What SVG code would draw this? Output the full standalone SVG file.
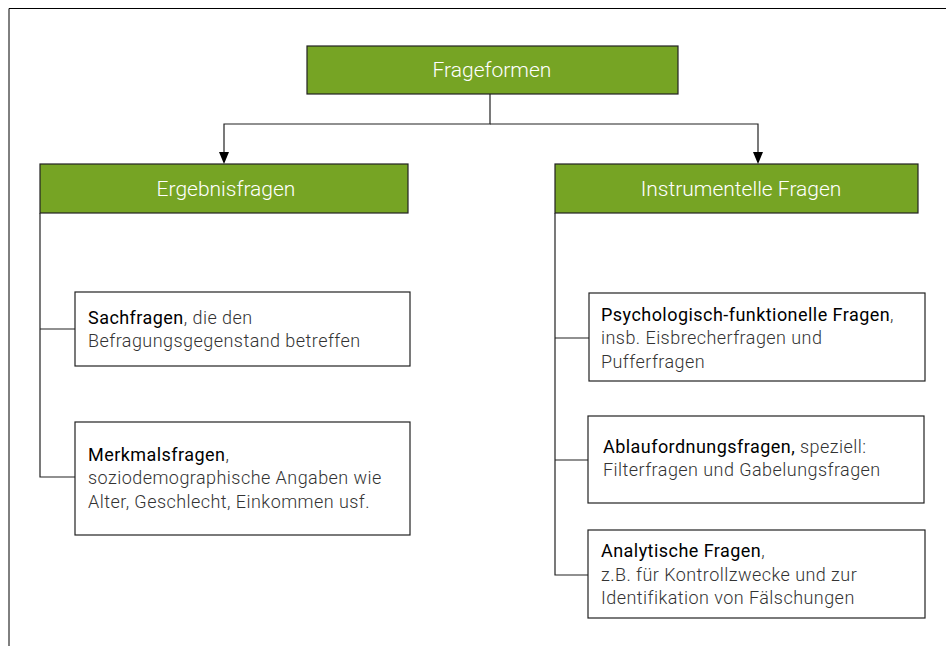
<svg xmlns="http://www.w3.org/2000/svg" width="946" height="646" viewBox="0 0 946 646">
<defs>
<style>
.head{fill:#76a424;stroke:#222;stroke-width:1.2}
.ht{font-family:Roboto,"Liberation Sans",sans-serif;font-size:21px;font-weight:300;fill:#fff;text-anchor:middle;dominant-baseline:central}
.box{fill:#fff;stroke:#222;stroke-width:1.2}
.t{font-family:Roboto,"Liberation Sans",sans-serif;font-size:18px;font-weight:300;letter-spacing:0.45px;fill:#333}
.b{font-weight:400;fill:#000}
.ln{fill:none;stroke:#222;stroke-width:1.2}
</style>
</defs>
<rect width="946" height="646" fill="#fff"/>
<path d="M9,646 V8.5 H946" fill="none" stroke="#000" stroke-width="1"/>
<g id="connectors">
<path class="ln" d="M490,94 V124 H224 V162"/>
<path class="ln" d="M490,124 H758 V162"/>
<polygon points="219,152 229,152 224,164" fill="#000"/>
<polygon points="753,152 763,152 758,164" fill="#000"/>
<path class="ln" d="M40,213 V477 H75 M40,329 H75"/>
<path class="ln" d="M555,213 V575 H588 M555,338 H589 M555,460 H588"/>
</g>
<g id="frageformen">
<rect class="head" x="307" y="46" width="371" height="48"/>
<text class="ht" x="492" y="70">Frageformen</text>
</g>
<g id="ergebnisfragen">
<rect class="head" x="40" y="164" width="368" height="49"/>
<text class="ht" x="226" y="189">Ergebnisfragen</text>
</g>
<g id="instrumentelle">
<rect class="head" x="555" y="164" width="363" height="49"/>
<text class="ht" x="741" y="189">Instrumentelle Fragen</text>
</g>
<g id="sachfragen">
<rect class="box" x="75" y="292" width="335" height="74"/>
<text class="t" x="88" y="324"><tspan class="b">Sachfragen</tspan>, die den</text>
<text class="t" x="88" y="347">Befragungsgegenstand betreffen</text>
</g>
<g id="merkmalsfragen">
<rect class="box" x="75" y="422" width="335" height="113"/>
<text class="t" x="88" y="461"><tspan class="b">Merkmalsfragen</tspan>,</text>
<text class="t" x="88" y="484">soziodemographische Angaben wie</text>
<text class="t" x="88" y="508">Alter, Geschlecht, Einkommen usf.</text>
</g>
<g id="psychologisch">
<rect class="box" x="589" y="293" width="336" height="88"/>
<text class="t" x="601" y="321"><tspan class="b">Psychologisch-funktionelle Fragen</tspan>,</text>
<text class="t" x="601" y="344">insb. Eisbrecherfragen und</text>
<text class="t" x="601" y="368">Pufferfragen</text>
</g>
<g id="ablauf">
<rect class="box" x="588" y="416" width="336" height="87"/>
<text class="t" x="603" y="453"><tspan class="b">Ablaufordnungsfragen,</tspan> speziell:</text>
<text class="t" x="603" y="476">Filterfragen und Gabelungsfragen</text>
</g>
<g id="analytische">
<rect class="box" x="588" y="530" width="337" height="88"/>
<text class="t" x="601" y="557"><tspan class="b">Analytische Fragen</tspan>,</text>
<text class="t" x="601" y="581">z.B. für Kontrollzwecke und zur</text>
<text class="t" x="601" y="604">Identifikation von Fälschungen</text>
</g>
</svg>
